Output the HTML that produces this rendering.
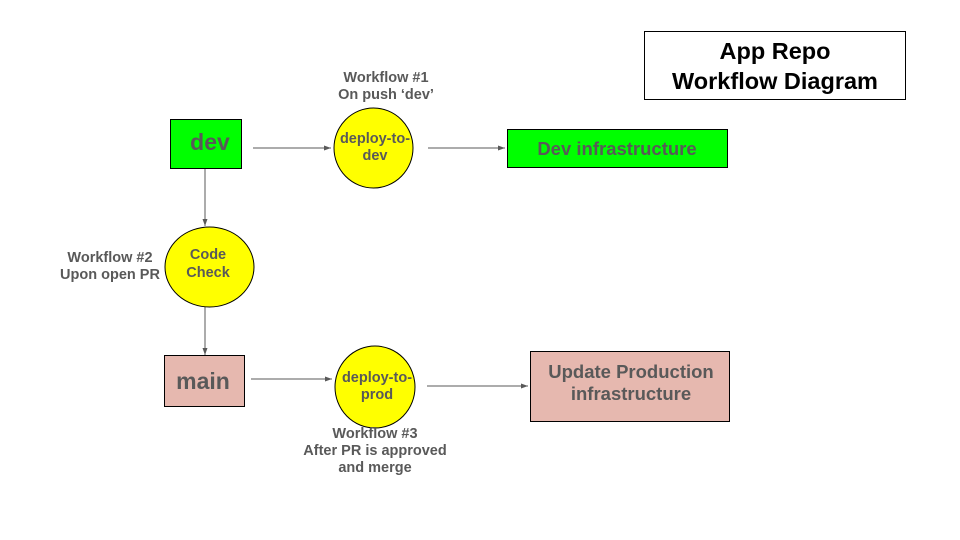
<!DOCTYPE html>
<html><head><meta charset="utf-8"><style>
body{margin:0;background:#fff}
svg{display:block}
text{font-family:"Liberation Sans",sans-serif;font-weight:bold;fill:#595959;text-anchor:middle}
</style></head><body>
<svg width="960" height="540" viewBox="0 0 960 540">
<defs><marker id="a" markerWidth="8" markerHeight="8" refX="7" refY="4" orient="auto" markerUnits="userSpaceOnUse"><path d="M0,1.5 L7,4 L0,6.5 z" fill="#595959"/></marker></defs>
<rect x="644.5" y="31.5" width="261" height="68" fill="#fff" stroke="#000"/>
<text x="775" y="59" style="fill:#000;font-size:23.5px">App Repo</text>
<text x="775" y="89" style="fill:#000;font-size:23.5px">Workflow Diagram</text>

<g stroke="#595959" stroke-width="1" fill="none">
<line x1="253" y1="148" x2="331" y2="148" marker-end="url(#a)"/>
<line x1="428" y1="148" x2="505" y2="148" marker-end="url(#a)"/>
<line x1="205" y1="168" x2="205" y2="226" marker-end="url(#a)"/>
<line x1="205" y1="306" x2="205" y2="355" marker-end="url(#a)"/>
<line x1="251" y1="379" x2="332" y2="379" marker-end="url(#a)"/>
<line x1="427" y1="386" x2="528" y2="386" marker-end="url(#a)"/>
</g>

<rect x="170.5" y="119.5" width="71" height="49" fill="#00ff00" stroke="#000"/>
<text x="210" y="150" style="font-size:23px">dev</text>

<ellipse cx="373.5" cy="148" rx="39.5" ry="40" fill="#ffff00" stroke="#000"/>
<text x="375" y="143" style="font-size:14.5px">deploy-to-</text>
<text x="375" y="160" style="font-size:14.5px">dev</text>
<text x="386" y="82" style="font-size:14.5px">Workflow #1</text>
<text x="386" y="99" style="font-size:14.5px">On push ‘dev’</text>

<rect x="507.5" y="129.5" width="220" height="38" fill="#00ff00" stroke="#000"/>
<text x="617" y="155" style="font-size:18.5px">Dev infrastructure</text>

<ellipse cx="209.5" cy="267" rx="44.5" ry="40" fill="#ffff00" stroke="#000"/>
<text x="208" y="259" style="font-size:14.5px">Code</text>
<text x="208" y="277" style="font-size:14.5px">Check</text>
<text x="110" y="262" style="font-size:14.5px">Workflow #2</text>
<text x="110" y="279" style="font-size:14.5px">Upon open PR</text>

<rect x="164.5" y="355.5" width="80" height="51" fill="#e6b8af" stroke="#000"/>
<text x="203" y="389" style="font-size:23px">main</text>

<ellipse cx="375" cy="387" rx="40" ry="41" fill="#ffff00" stroke="#000"/>
<text x="377" y="382" style="font-size:14.5px">deploy-to-</text>
<text x="377" y="399" style="font-size:14.5px">prod</text>
<text x="375" y="438" style="font-size:14.5px">Workflow #3</text>
<text x="375" y="455" style="font-size:14.5px">After PR is approved</text>
<text x="375" y="472" style="font-size:14.5px">and merge</text>

<rect x="530.5" y="351.5" width="199" height="70" fill="#e6b8af" stroke="#000"/>
<text x="631" y="378" style="font-size:18.5px">Update Production</text>
<text x="631" y="400" style="font-size:18.5px">infrastructure</text>
</svg>
</body></html>
